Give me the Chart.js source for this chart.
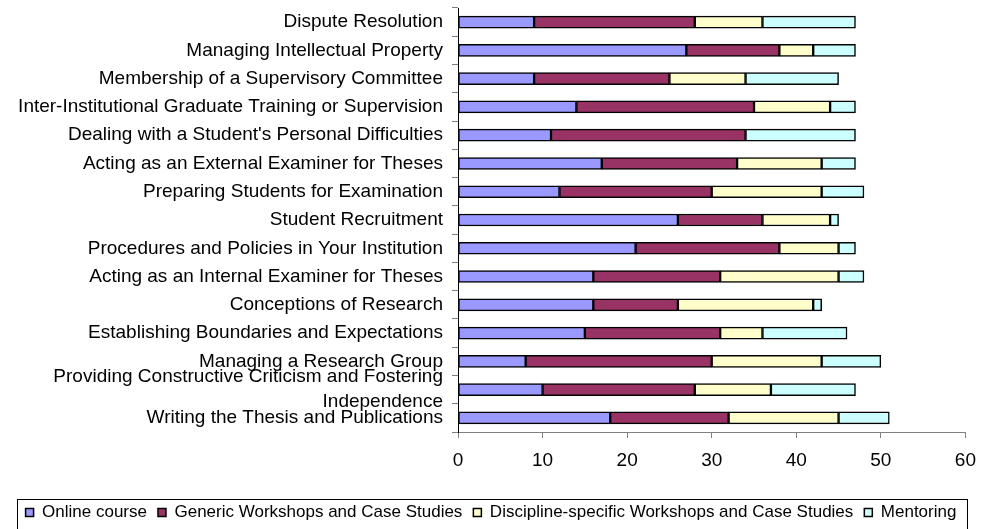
<!DOCTYPE html>
<html>
<head>
<meta charset="utf-8">
<title>Supervision training preferences</title>
<script src="https://cdn.jsdelivr.net/npm/chart.js@4/dist/chart.umd.min.js"></script>
<style>
  html, body { margin: 0; padding: 0; background: #ffffff; }
  #wrap { width: 987px; height: 529px; position: relative; }
</style>
</head>
<body>
<div id="wrap"><canvas id="chart"></canvas></div>
<script>
// Topics, listed top to bottom
const categories = [
  'Dispute Resolution',
  'Managing Intellectual Property',
  'Membership of a Supervisory Committee',
  'Inter-Institutional Graduate Training or Supervision',
  "Dealing with a Student's Personal Difficulties",
  'Acting as an External Examiner for Theses',
  'Preparing Students for Examination',
  'Student Recruitment',
  'Procedures and Policies in Your Institution',
  'Acting as an Internal Examiner for Theses',
  'Conceptions of Research',
  'Establishing Boundaries and Expectations',
  'Managing a Research Group',
  ['Providing Constructive Criticism and Fostering', 'Independence'],
  'Writing the Thesis and Publications'
];

// Number of responses for each delivery format
const onlineCourse        = [ 9, 27,  9, 14, 11, 17, 12, 26, 21, 16, 16, 15,  8, 10, 18];
const genericWorkshops    = [19, 11, 16, 21, 23, 16, 18, 10, 17, 15, 10, 16, 22, 18, 14];
const disciplineWorkshops = [ 8,  4,  9,  9,  0, 10, 13,  8,  7, 14, 16,  5, 13,  9, 13];
const mentoring           = [11,  5, 11,  3, 13,  4,  5,  1,  2,  3,  1, 10,  7, 10,  6];

const seriesNames  = ['Online course', 'Generic Workshops and Case Studies',
                      'Discipline-specific Workshops and Case Studies', 'Mentoring'];
const seriesColors = ['#9999FF', '#993366', '#FFFFCC', '#CCFFFF'];

const xMin = 0, xMax = 60, xStep = 10;

const FONT = "'Liberation Sans', Arial, Helvetica, sans-serif";

// Frame drawn around the legend entries
const legendFrame = {
  id: 'legendFrame',
  afterDraw(chart) {
    const lg = chart.legend;
    if (!lg || !lg.legendHitBoxes || !lg.legendHitBoxes.length) return;
    const boxes = lg.legendHitBoxes;
    const first = boxes[0], last = boxes[boxes.length - 1];
    const left = first.left - 8.5;
    const right = last.left + last.width + 10.5;
    const top = first.top - 5.5;
    const bottom = first.top + first.height + 10.5;
    const ctx = chart.ctx;
    ctx.save();
    ctx.strokeStyle = '#000000';
    ctx.lineWidth = 1;
    ctx.strokeRect(Math.round(left) + 0.5, Math.round(top) + 0.5,
                   Math.round(right - left), Math.round(bottom - top));
    ctx.restore();
  }
};

const datasets = [onlineCourse, genericWorkshops, disciplineWorkshops, mentoring].map((vals, i) => ({
  label: seriesNames[i],
  data: vals,
  backgroundColor: seriesColors[i],
  borderColor: '#000000',
  borderWidth: 1.5,
  borderSkipped: false,
  barThickness: 12
}));

new Chart(document.getElementById('chart'), {
  type: 'bar',
  data: { labels: categories, datasets },
  plugins: [legendFrame],
  options: {
    indexAxis: 'y',
    responsive: true,
    maintainAspectRatio: false,
    animation: false,
    layout: { padding: { top: 8, right: 17, bottom: -2, left: 12 } },
    scales: {
      x: {
        stacked: true,
        min: xMin,
        max: xMax,
        ticks: {
          stepSize: xStep,
          color: '#000000',
          font: { family: FONT, size: 19 },
          padding: 11
        },
        grid: { drawOnChartArea: false, drawTicks: true, tickLength: 6, color: '#808080' },
        border: { display: true, color: '#808080', width: 1 },
        afterFit(scale) { scale.height = 61; }
      },
      y: {
        stacked: true,
        ticks: {
          color: '#000000',
          font: { family: FONT, size: 19, lineHeight: 1.3 },
          padding: 9,
          autoSkip: false
        },
        grid: { drawOnChartArea: false, drawTicks: true, tickLength: 6, color: '#808080' },
        border: { display: true, color: '#000000', width: 1 },
        afterFit(scale) {
          scale.width = 446;
          scale.paddingTop = 0;
          scale.paddingBottom = 0;
        }
      }
    },
    plugins: {
      legend: {
        position: 'bottom',
        labels: {
          color: '#000000',
          font: { family: FONT, size: 17 },
          boxWidth: 8,
          boxHeight: 8,
          padding: 11
        }
      },
      tooltip: { enabled: false }
    }
  }
});
</script>
</body>
</html>
